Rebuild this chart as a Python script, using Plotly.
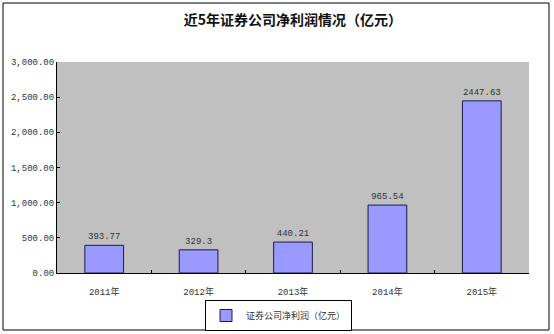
import plotly.graph_objects as go

categories = ["2011年", "2012年", "2013年", "2014年", "2015年"]
values = [393.77, 329.3, 440.21, 965.54, 2447.63]
labels = ["393.77", "329.3", "440.21", "965.54", "2447.63"]
series_name = "证券公司净利润（亿元）"
title_text = "近5年证券公司净利润情况（亿元）"

W, H = 554, 334
L, R, T, B = 57, 529, 62, 273
pw, ph = R - L, B - T

def px(x):
    return (x - L) / pw

def py(y):
    return (B - y) / ph

fig = go.Figure()
fig.add_trace(go.Bar(
    x=categories, y=values, name=series_name,
    text=labels, textposition="outside",
    textfont=dict(family="Liberation Mono, monospace", size=9, color="#333333"),
    marker=dict(color="#9999ff", line=dict(color="#1a1a4a", width=1)),
    width=0.41, cliponaxis=False, showlegend=True,
))

fig.update_layout(
    width=W, height=H,
    margin=dict(l=L, r=W - R, t=T, b=H - B, autoexpand=False),
    paper_bgcolor="white", plot_bgcolor="#c0c0c0",
    title=dict(text=title_text, x=0.5, xref="paper", y=1 - 20 / H, yanchor="middle",
               font=dict(family="Noto Sans CJK SC", size=14, color="#111111", weight="bold")),
    font=dict(family="Liberation Mono, Noto Sans CJK SC", size=9, color="#333333"),
    xaxis=dict(
        type="category", tickson="boundaries", ticks="inside", ticklen=3, tickcolor="black",
        showline=True, linecolor="black", linewidth=1, showgrid=False,
        tickfont=dict(family="Liberation Mono, Noto Sans CJK SC", size=9, color="#333333"),
        ticklabelstandoff=10,
        range=[-0.5, 4.5],
    ),
    yaxis=dict(
        range=[0, 3000], tickvals=[0, 500, 1000, 1500, 2000, 2500, 3000], tickformat=",.2f",
        ticks="inside", ticklen=3, tickcolor="black",
        showline=True, linecolor="black", linewidth=1, showgrid=False, zeroline=False,
        tickfont=dict(family="Liberation Mono, monospace", size=9, color="#333333"),
    ),
    legend=dict(
        x=px(205), y=py(300), xanchor="left", yanchor="top",
        bordercolor="black", borderwidth=1, bgcolor="white",
        font=dict(family="Noto Sans CJK SC", size=9, color="#333333"),
        itemwidth=30, tracegroupgap=0,
    ),
    bargap=0.59,
)

fig.add_shape(type="rect", xref="paper", yref="paper",
              x0=px(3), x1=px(549), y0=py(330), y1=py(3),
              line=dict(color="black", width=1), fillcolor="rgba(0,0,0,0)", layer="above")

fig.write_html("out.html")
